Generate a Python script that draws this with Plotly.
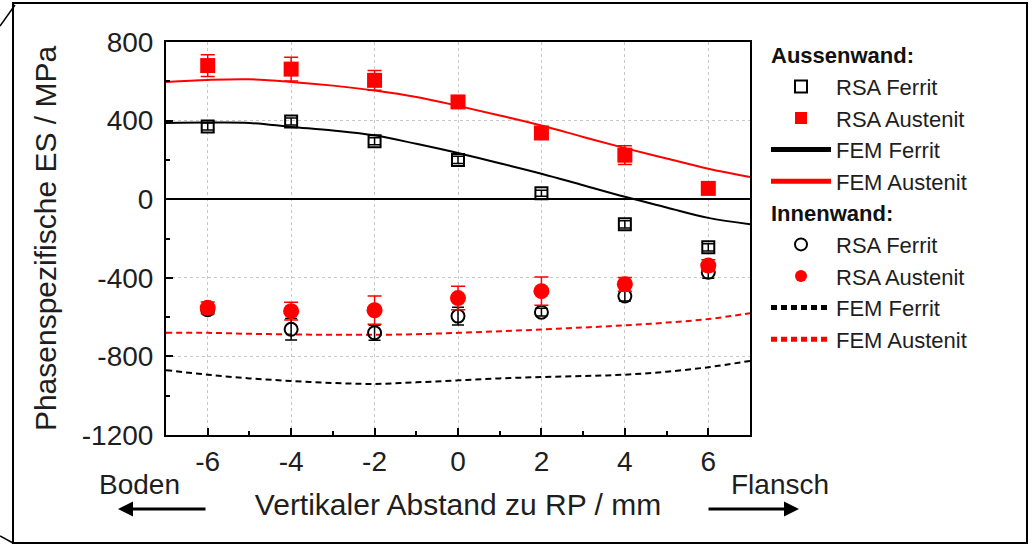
import plotly.graph_objects as go

# ---------------- data ----------------
x_meas = [-6, -4, -2, 0, 2, 4, 6]

aw_rsa_ferrit = [370, 395, 295, 200, 30, -128, -245]
aw_rsa_ferrit_err = [18, 18, 18, 18, 15, 18, 18]
aw_rsa_austenit = [680, 662, 605, 495, 337, 224, 55]
aw_rsa_austenit_err = [55, 60, 50, 25, 30, 48, 20]

iw_rsa_ferrit = [-562, -662, -680, -595, -575, -493, -372]
iw_rsa_ferrit_err = [25, 55, 38, 45, 20, 25, 30]
iw_rsa_austenit = [-553, -570, -565, -503, -468, -433, -338]
iw_rsa_austenit_err = [30, 45, 72, 60, 72, 35, 30]

x_fem = [-7, -6, -5, -4, -3, -2, -1, 0, 1, 2, 3, 4, 5, 6, 7]
aw_fem_ferrit = [388, 390, 388, 368, 350, 325, 282, 235, 183, 130, 71, 12, -42, -95, -127]
aw_fem_austenit = [597, 607, 610, 597, 578, 553, 520, 475, 426, 375, 317, 260, 207, 155, 113]
iw_fem_ferrit = [-870, -893, -912, -925, -935, -940, -932, -922, -912, -905, -900, -893, -878, -855, -823]
iw_fem_austenit = [-680, -680, -685, -688, -690, -690, -687, -680, -672, -663, -653, -642, -628, -610, -580]

x_ticks = [-6, -4, -2, 0, 2, 4, 6]
y_ticks = [-1200, -800, -400, 0, 400, 800]

RED = "#ff0000"
BLACK = "#000000"
TXT = "#1e1e1e"
FONT = "Liberation Sans, Arial, sans-serif"

fig = go.Figure()

# FEM lines (drawn below markers)
fig.add_trace(go.Scatter(x=x_fem, y=aw_fem_ferrit, mode="lines", name="FEM Ferrit",
                         line=dict(color=BLACK, width=2, shape="spline"),
                         legendgroup="aw", legendgrouptitle_text="<b>Aussenwand:</b>", legendrank=3))
fig.add_trace(go.Scatter(x=x_fem, y=aw_fem_austenit, mode="lines", name="FEM Austenit",
                         line=dict(color=RED, width=2, shape="spline"),
                         legendgroup="aw", legendrank=4))
fig.add_trace(go.Scatter(x=x_fem, y=iw_fem_ferrit, mode="lines", name="FEM Ferrit",
                         line=dict(color=BLACK, width=2, shape="spline", dash="6px,4px"),
                         legendgroup="iw", legendgrouptitle_text="<b>Innenwand:</b>", legendrank=7))
fig.add_trace(go.Scatter(x=x_fem, y=iw_fem_austenit, mode="lines", name="FEM Austenit",
                         line=dict(color=RED, width=2, shape="spline", dash="6px,4px"),
                         legendgroup="iw", legendrank=8))

# RSA markers
fig.add_trace(go.Scatter(x=x_meas, y=aw_rsa_ferrit, mode="markers", name="RSA Ferrit",
                         marker=dict(symbol="square-open", size=12, color=BLACK, line=dict(width=2)),
                         error_y=dict(type="data", array=aw_rsa_ferrit_err, color=BLACK, thickness=1.5, width=6),
                         legendgroup="aw", legendrank=1))
fig.add_trace(go.Scatter(x=x_meas, y=aw_rsa_austenit, mode="markers", name="RSA Austenit",
                         marker=dict(symbol="square", size=15, color=RED),
                         error_y=dict(type="data", array=aw_rsa_austenit_err, color=RED, thickness=1.5, width=7),
                         legendgroup="aw", legendrank=2))
fig.add_trace(go.Scatter(x=x_meas, y=iw_rsa_ferrit, mode="markers", name="RSA Ferrit",
                         marker=dict(symbol="circle-open", size=13, color=BLACK, line=dict(width=2)),
                         error_y=dict(type="data", array=iw_rsa_ferrit_err, color=BLACK, thickness=1.5, width=6),
                         legendgroup="iw", legendrank=5))
fig.add_trace(go.Scatter(x=x_meas, y=iw_rsa_austenit, mode="markers", name="RSA Austenit",
                         marker=dict(symbol="circle", size=16, color=RED),
                         error_y=dict(type="data", array=iw_rsa_austenit_err, color=RED, thickness=1.5, width=7),
                         legendgroup="iw", legendrank=6))

L, R, T, B = 166, 283, 42, 110
W, H = 1033, 545
pw, ph = W - L - R, H - T - B


def px(xp):
    return (xp - L) / pw


def py(yp):
    return (H - B - yp) / ph


axis_common = dict(
    showline=True, linecolor=BLACK, linewidth=2, mirror=True,
    ticks="inside", ticklen=7, tickwidth=1.5, tickcolor=BLACK,
    showgrid=True, gridcolor="#c8c8c8", griddash="dot", gridwidth=1,
    tickfont=dict(family=FONT, size=28, color=TXT),
)

fig.update_xaxes(
    range=[-7, 7], tickvals=x_ticks, ticktext=[str(v) for v in x_ticks],
    zeroline=False, ticklabelstandoff=0,
    minor=dict(dtick=1, tick0=-7, ticks="inside", ticklen=4, tickcolor=BLACK, showgrid=False),
    title=dict(text="Vertikaler Abstand zu RP / mm", font=dict(family=FONT, size=30, color=TXT), standoff=18),
    **axis_common,
)
fig.update_yaxes(
    range=[-1200, 800], tickvals=y_ticks, ticktext=[str(v) for v in y_ticks],
    zeroline=True, zerolinecolor=BLACK, zerolinewidth=1.5, ticklabelstandoff=5,
    minor=dict(dtick=200, tick0=-1200, ticks="inside", ticklen=4, tickcolor=BLACK, showgrid=False),
    title=dict(text="Phasenspezifische ES / MPa", font=dict(family=FONT, size=30, color=TXT), standoff=16),
    **axis_common,
)

fig.update_layout(
    width=W, height=H,
    margin=dict(l=L, r=R, t=T, b=B),
    paper_bgcolor="white", plot_bgcolor="white",
    font=dict(family=FONT, color=TXT),
    legend=dict(
        x=px(766), y=py(34), xanchor="left", yanchor="top",
        font=dict(family=FONT, size=22, color=TXT),
        grouptitlefont=dict(family=FONT, size=22, color="#111111"),
        tracegroupgap=0, itemwidth=60, bgcolor="rgba(0,0,0,0)",
        itemsizing="constant", maxheight=800,
    ),
    showlegend=True,
)

# Boden / Flansch labels and arrows
fig.add_annotation(x=px(139), y=py(485), xref="paper", yref="paper", text="Boden",
                   xanchor="center", yanchor="middle",
                   showarrow=False, font=dict(family=FONT, size=28, color=TXT))
fig.add_annotation(x=px(780), y=py(484), xref="paper", yref="paper", text="Flansch",
                   xanchor="center", yanchor="middle",
                   showarrow=False, font=dict(family=FONT, size=28, color=TXT))
fig.add_annotation(x=px(118), y=py(509), xref="paper", yref="paper", text="",
                   ax=89, ay=0, axref="pixel", ayref="pixel",
                   showarrow=True, arrowhead=2, arrowsize=1, arrowwidth=3, arrowcolor=BLACK)
fig.add_annotation(x=px(799), y=py(509), xref="paper", yref="paper", text="",
                   ax=-92, ay=0, axref="pixel", ayref="pixel",
                   showarrow=True, arrowhead=2, arrowsize=1, arrowwidth=3, arrowcolor=BLACK)

# outer frame and corner artifacts
fig.add_shape(type="rect", xref="paper", yref="paper",
              x0=px(13), x1=px(1027), y0=py(543), y1=py(3),
              line=dict(color=BLACK, width=2), layer="above")
fig.add_shape(type="line", xref="paper", yref="paper",
              x0=px(0), y0=py(26), x1=px(15), y1=py(5), line=dict(color=BLACK, width=1.5))
fig.add_shape(type="line", xref="paper", yref="paper",
              x0=px(0), y0=py(536), x1=px(13), y1=py(543), line=dict(color=BLACK, width=1.5))

fig.write_html("out.html")
